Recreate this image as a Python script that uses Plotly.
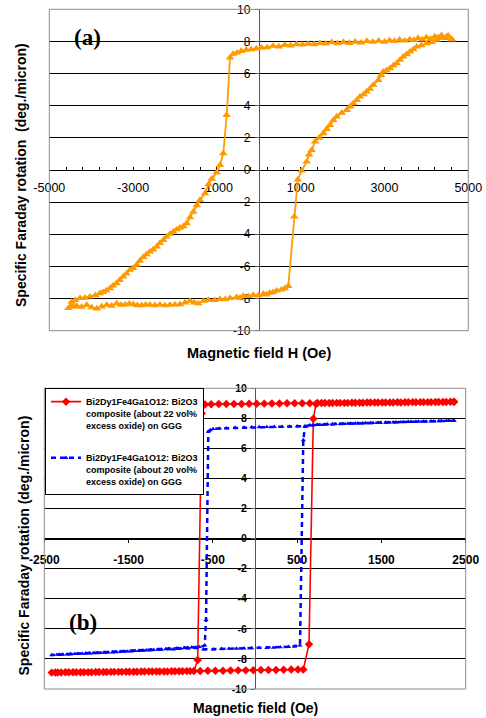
import plotly.graph_objects as go

# ---------------- data: panel (a) ----------------
# descending branch (from +H saturation to -H)
a_down = [(4604, 8.13), (4520, 8.35), (4440, 8.20), (4360, 8.38), (4280, 8.25), (4200, 8.30),
          (4100, 8.15), (4000, 8.25), (3900, 8.12), (3800, 8.20), (3700, 8.08), (3600, 8.12),
          (3480, 8.05), (3360, 8.10), (3240, 8.02), (3120, 8.06), (3000, 7.98), (2860, 8.04),
          (2720, 7.97), (2580, 8.02), (2440, 7.92), (2300, 7.98), (2160, 7.90), (2020, 7.96),
          (1880, 7.88), (1740, 7.95), (1600, 7.86), (1460, 7.90), (1320, 7.82), (1180, 7.85),
          (1040, 7.80), (900, 7.83), (760, 7.74), (620, 7.78), (480, 7.68), (340, 7.72),
          (200, 7.63), (60, 7.62), (-60, 7.55), (-180, 7.50), (-300, 7.48), (-420, 7.40),
          (-520, 7.30), (-610, 7.22), (-687, 7.00), (-766, 3.42), (-847, 1.04), (-926, 0.31),
          (-1005, -0.15), (-1124, -0.55), (-1200, -0.90), (-1284, -1.45), (-1403, -1.87),
          (-1480, -2.20), (-1563, -2.60), (-1640, -2.95), (-1721, -3.32), (-1800, -3.50),
          (-1881, -3.60), (-1960, -3.70), (-2040, -3.85), (-2119, -3.98), (-2200, -4.15),
          (-2279, -4.36), (-2360, -4.55), (-2437, -4.77), (-2520, -4.95), (-2597, -5.08),
          (-2680, -5.25), (-2757, -5.42), (-2840, -5.65), (-2916, -5.91), (-3000, -6.10),
          (-3074, -6.22), (-3160, -6.45), (-3236, -6.64), (-3320, -6.85), (-3396, -7.05),
          (-3480, -7.20), (-3552, -7.36), (-3640, -7.50), (-3720, -7.60), (-3790, -7.67),
          (-3900, -7.80), (-4029, -7.88), (-4150, -7.95), (-4267, -7.98), (-4380, -8.10),
          (-4466, -8.20), (-4546, -8.60)]
# ascending branch (from -H saturation back to +H)
a_up = [(-4546, -8.60), (-4480, -8.45), (-4420, -8.50), (-4346, -8.46), (-4230, -8.52),
        (-4108, -8.40), (-3990, -8.55), (-3869, -8.62), (-3750, -8.50), (-3630, -8.40),
        (-3510, -8.45), (-3392, -8.30), (-3290, -8.40), (-3190, -8.38), (-3090, -8.33),
        (-2995, -8.36), (-2900, -8.42), (-2800, -8.42), (-2700, -8.38), (-2597, -8.40),
        (-2480, -8.42), (-2360, -8.38), (-2240, -8.43), (-2119, -8.40), (-2000, -8.38),
        (-1881, -8.36), (-1760, -8.25), (-1642, -8.15), (-1540, -8.25), (-1444, -8.30),
        (-1320, -8.15), (-1205, -8.09), (-1060, -8.10), (-926, -8.03), (-800, -8.05),
        (-687, -7.98), (-530, -7.92), (-450, -7.95), (-370, -7.84), (-250, -7.85),
        (-131, -7.78), (-10, -7.80), (107, -7.72), (180, -7.75), (260, -7.65), (340, -7.60),
        (427, -7.51), (540, -7.45), (625, -7.36), (704, -7.22), (847, -2.90), (930, -0.60),
        (1023, -0.04), (1143, 0.52), (1200, 0.95), (1262, 1.24), (1341, 1.76), (1440, 2.00),
        (1540, 2.28), (1620, 2.55), (1699, 2.80), (1780, 3.10), (1859, 3.32), (1980, 3.55),
        (2098, 3.73), (2180, 3.95), (2255, 4.15), (2340, 4.35), (2415, 4.56), (2500, 4.70),
        (2575, 4.87), (2650, 5.05), (2733, 5.29), (2852, 5.60), (2920, 5.90), (2971, 6.12),
        (3050, 6.20), (3131, 6.33), (3210, 6.50), (3291, 6.64), (3370, 6.85), (3449, 7.05),
        (3530, 7.20), (3609, 7.36), (3690, 7.50), (3768, 7.67), (3880, 7.75), (4007, 7.88),
        (4130, 7.95), (4246, 8.09), (4370, 8.22), (4484, 8.30), (4604, 8.13)]

# ---------------- data: panel (b) ----------------
red_down = [(2361, 9.10), (2270, 9.09), (2180, 9.09), (2090, 9.08), (2000, 9.08), (1910, 9.07),
            (1820, 9.07), (1730, 9.06), (1640, 9.06), (1550, 9.05), (1460, 9.05), (1370, 9.05),
            (1280, 9.04), (1190, 9.04), (1100, 9.03), (1010, 9.03), (920, 9.02), (830, 9.02),
            (740, 9.02), (650, 9.01), (560, 9.01), (470, 9.00), (380, 9.00), (290, 8.99),
            (200, 8.99), (110, 8.98), (20, 8.97), (-70, 8.97), (-160, 8.96), (-250, 8.96),
            (-340, 8.95), (-430, 8.95), (-520, 8.94), (-593, 8.93), (-632, 8.34), (-680, -8.07),
            (-725, -8.80), (-810, -8.81), (-900, -8.82), (-990, -8.82), (-1080, -8.83),
            (-1170, -8.83), (-1260, -8.84), (-1350, -8.84), (-1440, -8.85), (-1530, -8.85),
            (-1620, -8.86), (-1710, -8.86), (-1800, -8.87), (-1890, -8.87), (-1980, -8.88),
            (-2070, -8.88), (-2160, -8.89), (-2250, -8.89), (-2340, -8.90), (-2412, -8.91)]
red_up = [(-2412, -8.91), (-2370, -8.90), (-2300, -8.90), (-2210, -8.89), (-2120, -8.89),
          (-2030, -8.88), (-1940, -8.88), (-1850, -8.87), (-1760, -8.87), (-1670, -8.86),
          (-1580, -8.86), (-1490, -8.85), (-1400, -8.85), (-1310, -8.84), (-1220, -8.84),
          (-1130, -8.83), (-1040, -8.83), (-950, -8.82), (-860, -8.82), (-770, -8.81),
          (-650, -8.80), (-560, -8.79), (-470, -8.78), (-380, -8.78), (-290, -8.77),
          (-200, -8.76), (-110, -8.76), (-20, -8.75), (70, -8.74), (160, -8.74), (250, -8.73),
          (340, -8.72), (430, -8.71), (510, -8.71), (573, -8.70), (641, -7.02), (692, 7.98),
          (724, 8.96), (790, 9.02), (880, 9.02), (970, 9.03), (1060, 9.03), (1150, 9.04),
          (1240, 9.04), (1330, 9.05), (1420, 9.05), (1510, 9.06), (1600, 9.06), (1690, 9.07),
          (1780, 9.07), (1870, 9.08), (1960, 9.08), (2050, 9.08), (2140, 9.09), (2230, 9.09),
          (2320, 9.10), (2361, 9.10)]
blue_down = [(2361, 7.85), (2270, 7.84), (2180, 7.82), (2090, 7.81), (2000, 7.80), (1910, 7.78),
             (1820, 7.77), (1730, 7.75), (1640, 7.74), (1550, 7.72), (1460, 7.71), (1370, 7.69),
             (1280, 7.68), (1190, 7.66), (1100, 7.65), (1010, 7.63), (920, 7.62), (830, 7.60),
             (740, 7.58), (650, 7.55), (593, 7.48), (500, 7.47), (410, 7.46), (320, 7.45),
             (230, 7.44), (140, 7.43), (50, 7.42), (-40, 7.41), (-130, 7.40), (-237, 7.38),
             (-336, 7.35), (-420, 7.33), (-498, 7.30), (-530, 7.22), (-554, 7.12), (-581, -5.41),
             (-597, -7.10), (-660, -7.20), (-750, -7.23), (-840, -7.27), (-930, -7.30),
             (-1020, -7.33), (-1110, -7.37), (-1200, -7.40), (-1290, -7.43), (-1380, -7.46),
             (-1470, -7.49), (-1560, -7.52), (-1650, -7.55), (-1740, -7.57), (-1830, -7.60),
             (-1920, -7.62), (-2010, -7.64), (-2100, -7.66), (-2190, -7.68), (-2280, -7.70),
             (-2350, -7.72), (-2412, -7.74)]
blue_up = [(-2412, -7.74), (-2320, -7.71), (-2230, -7.69), (-2140, -7.67), (-2050, -7.65),
           (-1960, -7.63), (-1870, -7.61), (-1780, -7.58), (-1690, -7.56), (-1600, -7.53),
           (-1510, -7.50), (-1420, -7.47), (-1330, -7.44), (-1240, -7.41), (-1150, -7.38),
           (-1060, -7.35), (-969, -7.36), (-880, -7.32), (-790, -7.29), (-700, -7.26),
           (-610, -7.36), (-495, -7.36), (-400, -7.33), (-310, -7.32), (-220, -7.31),
           (-130, -7.29), (-40, -7.28), (50, -7.27), (140, -7.26), (217, -7.25), (300, -7.22),
           (400, -7.19), (470, -7.16), (534, -7.10), (573, 6.56), (593, 7.45), (680, 7.54),
           (770, 7.57), (860, 7.61), (950, 7.63), (1040, 7.64), (1130, 7.66), (1220, 7.67),
           (1310, 7.69), (1400, 7.70), (1490, 7.71), (1580, 7.73), (1670, 7.74), (1760, 7.76),
           (1850, 7.77), (1940, 7.79), (2030, 7.80), (2120, 7.81), (2210, 7.83), (2300, 7.84),
           (2361, 7.85)]

red_name = "Bi2Dy1Fe4Ga1O12: Bi2O3<br>composite (about 22 vol%<br>excess oxide) on GGG"
blue_name = "Bi2Dy1Fe4Ga1O12: Bi2O3<br>composite (about 20 vol%<br>excess oxide) on GGG"

# ---------------- tick labels ----------------
a_xticks = [-5000, -3000, -1000, 1000, 3000, 5000]
a_xlabels = ["-5000", "-3000", "-1000", "1000", "3000", "5000"]
b_xticks = [-2500, -1500, -500, 500, 1500, 2500]
b_xlabels = ["-2500", "-1500", "-500", "500", "1500", "2500"]
yticks = [-10, -8, -6, -4, -2, 0, 2, 4, 6, 8, 10]
ylabels = ["-10", "-8", "-6", "-4", "-2", "0", "2", "4", "6", "8", "10"]


def xs(pairs):
    return [p[0] for p in pairs]


def ys(pairs):
    return [p[1] for p in pairs]


W, H = 486, 718
SANS = "Liberation Sans, Arial, sans-serif"
SERIF = "Liberation Serif, Times New Roman, serif"

# pixel geometry of the two plot areas
A_L, A_R, A_T, A_B = 49.3, 468.3, 9.3, 330.7
B_L, B_R, B_T, B_B = 44.3, 465.7, 388.3, 689.0


def px(v):
    return v / W


def py(v):
    return 1 - v / H


fig = go.Figure()

a_loop = a_down + a_up[1:]
fig.add_trace(go.Scatter(
    x=xs(a_loop), y=ys(a_loop), xaxis="x", yaxis="y", mode="lines+markers",
    line=dict(color="#FF9900", width=1.8),
    marker=dict(symbol="triangle-up", size=7.5, color="#FF9900"),
    showlegend=False))

red_loop = red_down + red_up[1:]
fig.add_trace(go.Scatter(
    x=xs(red_loop), y=ys(red_loop), xaxis="x2", yaxis="y2", mode="lines+markers",
    name=red_name, legendgroup="r",
    line=dict(color="#FF0000", width=1.6),
    marker=dict(symbol="diamond", size=6.5, color="#FF0000")))

blue_loop = blue_down + blue_up[1:]
fig.add_trace(go.Scatter(
    x=xs(blue_loop), y=ys(blue_loop), xaxis="x2", yaxis="y2", mode="lines+markers",
    name=blue_name, legendgroup="b",
    line=dict(color="#0000FF", width=2.5, dash="5px,4px"),
    marker=dict(symbol="triangle-up", size=4.5, color="#0000FF")))

common_x = dict(showgrid=False, zeroline=False, showline=True, linecolor="black",
                linewidth=1, tickmode="array", tickcolor="black", anchor="free",
                layer="below traces", fixedrange=True, automargin=False)
common_y = dict(showgrid=True, gridcolor="black", gridwidth=1, zeroline=False,
                showline=True, linecolor="#555555", linewidth=1, tickmode="array",
                tickvals=yticks, ticktext=ylabels, ticks="outside", ticklen=4,
                tickcolor="#555555", anchor="free", side="left",
                layer="below traces", range=[-10, 10], fixedrange=True, automargin=False)


def ann(text, x, y, size, family=SANS, angle=0):
    return dict(text=text, x=px(x), y=py(y), xref="paper", yref="paper",
                xanchor="center", yanchor="middle", showarrow=False, textangle=angle,
                font=dict(family=family, size=size, color="black"))


fig.update_layout(
    width=W, height=H,
    margin=dict(l=0, r=0, t=0, b=0, pad=0, autoexpand=False),
    paper_bgcolor="white", plot_bgcolor="white",
    xaxis=dict(common_x, domain=[px(A_L), px(A_R)], range=[-5000, 5000],
               position=(py(A_T) + py(A_B)) / 2,
               tickvals=a_xticks, ticktext=a_xlabels, ticks="inside", ticklen=3,
               minor=dict(tickmode="linear", tick0=-5000, dtick=400, ticks="inside",
                          ticklen=3, tickcolor="black", showgrid=False),
               tickfont=dict(family=SANS, size=12.5, color="black"),
               ticklabelstandoff=6),
    yaxis=dict(common_y, domain=[py(A_B), py(A_T)], position=px((A_L + A_R) / 2),
               tickfont=dict(family=SANS, size=12, color="black"),
               ticklabelstandoff=2),
    xaxis2=dict(common_x, domain=[px(B_L), px(B_R)], range=[-2500, 2500],
                position=(py(B_T) + py(B_B)) / 2,
                tickvals=b_xticks, ticktext=b_xlabels, ticks="outside", ticklen=3,
                tickfont=dict(family=SANS, size=12, color="black", weight="bold"),
                ticklabelstandoff=7),
    yaxis2=dict(common_y, domain=[py(B_B), py(B_T)], position=px((B_L + B_R) / 2),
                tickfont=dict(family=SANS, size=10.5, color="black", weight="bold"),
                ticklabelstandoff=2),
    legend=dict(x=px(45), y=py(388.3), xanchor="left", yanchor="top",
                bgcolor="white", bordercolor="black", borderwidth=1,
                font=dict(family=SANS, size=9, color="black", weight="bold"),
                valign="top", tracegroupgap=18, itemwidth=30),
    shapes=[
        dict(type="rect", xref="x domain", yref="y domain", x0=0, x1=1, y0=0, y1=1,
             line=dict(color="#8c8c8c", width=1), layer="above"),
        dict(type="rect", xref="x2 domain", yref="y2 domain", x0=0, x1=1, y0=0, y1=1,
             line=dict(color="#8c8c8c", width=1), layer="above"),
    ],
    annotations=[
        ann("<b>(a)</b>", 87, 38, 23, SERIF),
        ann("<b>(b)</b>", 82.5, 622.7, 23, SERIF),
        ann("<b>Magnetic field H (Oe)</b>", (A_L + A_R) / 2, 353, 14.5),
        ann("<b>Specific Faraday rotation \u00a0(deg./micron)</b>", 21, 175, 14, angle=-90),
        ann("<b>Magnetic field (Oe)</b>", (B_L + B_R) / 2, 708, 14),
        ann("<b>Specific Faraday rotation (deg./micron)</b>", 23, 545.5, 14, angle=-90),
    ],
)

fig.write_html("out.html",
               config={"displayModeBar": False},
               post_script="document.body.style.margin='0';"
                           "document.body.style.overflow='hidden';")
